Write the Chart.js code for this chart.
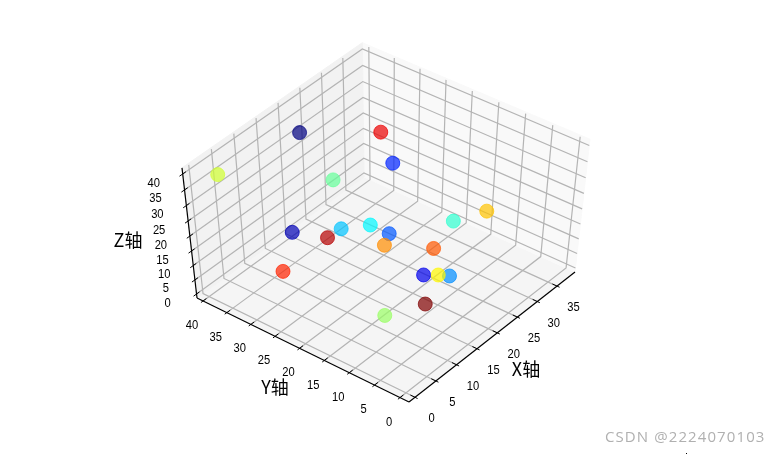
<!DOCTYPE html>
<html>
<head>
<meta charset="utf-8">
<title>3D scatter</title>
<script src="https://cdn.jsdelivr.net/npm/chart.js@4/dist/chart.umd.min.js"></script>
<style>
  html, body { margin: 0; padding: 0; background: #fff; }
  canvas { display: block; }
</style>
</head>
<body>
<canvas id="chart" width="779" height="454"></canvas>
<script>
// point values
var xValues = [19.4, 9.8, 14.0, 28.6, 17.2, 17.9, 13.8, 17.2, 25.5, 20.4, 6.1, 2.7, 15.9, 28.0, 14.5, 18.3, 5.8, 31.3, 11.4, 11.4];
var yValues = [36.7, 30.5, 8.2, 26.2, 17.5, 6.3, 24.1, 21.2, 11.8, 31.2, 9.2, 38.2, 6.9, 7.5, 16.2, 9.8, 29.2, 30.8, 24.8, 5.7];
var zValues = [36, 18, 17, 25, 20, 14, 20, 20, 20, 24, 11, 38, 16, 24, 20, 20, 10, 29, 19, 12];
var colorValues = [0, 1, 2, 3, 4, 5, 6, 7, 8, 9, 10, 11, 12, 13, 14, 15, 16, 17, 18, 19];

var xTicks = [0, 5, 10, 15, 20, 25, 30, 35];
var yTicks = [0, 5, 10, 15, 20, 25, 30, 35, 40];
var zTicks = [0, 5, 10, 15, 20, 25, 30, 35, 40];

var xLimits = [-1.43, 39.6];
var yLimits = [-1.75, 41.28];
var zLimits = [-1.43, 41.9];

// camera fitted to the box corners, works on 0..1 box coordinates
var camera = [
  [188.56, -203.415, -29.59, 409],
  [-119.33, -91.01, -148.7, 402],
  [0.03923, 0.04358, -0.07657, 1]
];

function project(x, y, z) {
  var a = (x - xLimits[0]) / (xLimits[1] - xLimits[0]);
  var b = (y - yLimits[0]) / (yLimits[1] - yLimits[0]);
  var c = (z - zLimits[0]) / (zLimits[1] - zLimits[0]);
  var w = camera[2][0] * a + camera[2][1] * b + camera[2][2] * c + camera[2][3];
  return {
    x: (camera[0][0] * a + camera[0][1] * b + camera[0][2] * c + camera[0][3]) / w,
    y: (camera[1][0] * a + camera[1][1] * b + camera[1][2] * c + camera[1][3]) / w
  };
}

// matplotlib jet
function jet(value, alpha) {
  var t = value / 19;
  function band(center) {
    return Math.round(255 * Math.max(0, Math.min(1, 1.5 - Math.abs(4 * t - center))));
  }
  return 'rgba(' + band(3) + ',' + band(2) + ',' + band(1) + ',' + alpha + ')';
}

function lineSet(points, color, width, order) {
  return {
    data: points,
    borderColor: color,
    borderWidth: width,
    pointRadius: 0,
    fill: false,
    tension: 0,
    order: order
  };
}

function paneSet(points, color) {
  return {
    data: points,
    borderColor: color,
    borderWidth: 1,
    backgroundColor: color,
    pointRadius: 0,
    fill: 'shape',
    tension: 0,
    order: 5
  };
}

var x0 = xLimits[0], x1 = xLimits[1];
var y0 = yLimits[0], y1 = yLimits[1];
var z0 = zLimits[0], z1 = zLimits[1];

var datasets = [];

// panes
datasets.push(paneSet([project(x0, y1, z0), project(x1, y1, z0), project(x1, y1, z1), project(x0, y1, z1), project(x0, y1, z0)], '#f2f2f2'));
datasets.push(paneSet([project(x1, y0, z0), project(x1, y1, z0), project(x1, y1, z1), project(x1, y0, z1), project(x1, y0, z0)], '#f9f9f9'));
datasets.push(paneSet([project(x0, y0, z0), project(x1, y0, z0), project(x1, y1, z0), project(x0, y1, z0), project(x0, y0, z0)], '#f5f5f5'));

// grid lines
var gridColor = '#b4b4b4';
xTicks.forEach(function(t) {
  datasets.push(lineSet([project(t, y0, z0), project(t, y1, z0), project(t, y1, z1 - 0.5)], gridColor, 1.2, 3));
});
yTicks.forEach(function(t) {
  datasets.push(lineSet([project(x0, t, z0), project(x1, t, z0), project(x1, t, z1 - 0.5)], gridColor, 1.2, 3));
});
zTicks.forEach(function(t) {
  datasets.push(lineSet([project(x0, y1, t), project(x1, y1, t), project(x1, y0, t)], gridColor, 1.2, 3));
});

// axis lines and ticks
datasets.push(lineSet([project(x0, y0, z0), project(x1, y0, z0)], '#000', 1.2, 2));
datasets.push(lineSet([project(x0, y0, z0), project(x0, y1, z0)], '#000', 1.2, 2));
datasets.push(lineSet([project(x0, y1, z0), project(x0, y1, z1)], '#000', 1.2, 2));
xTicks.forEach(function(t) {
  datasets.push(lineSet([project(t, y0 - 0.5, z0), project(t, y0 + 0.9, z0)], '#000', 1, 2));
});
yTicks.forEach(function(t) {
  datasets.push(lineSet([project(x0 - 0.5, t, z0), project(x0 + 0.8, t, z0)], '#000', 1, 2));
});
zTicks.forEach(function(t) {
  datasets.push(lineSet([project(x0 - 0.7, y1, t), project(x0 + 0.7, y1, t)], '#000', 1, 2));
});

// the points
var scatterPoints = xValues.map(function(x, i) {
  return project(x, yValues[i], zValues[i]);
});
datasets.push({
  data: scatterPoints,
  showLine: false,
  pointRadius: 7,
  pointBorderWidth: 1,
  pointBackgroundColor: colorValues.map(function(v) { return jet(v, 0.7); }),
  pointBorderColor: colorValues.map(function(v) { return jet(v, 0.7); }),
  order: 0
});

// tick digits in the reference are narrow, squeeze them a bit
function narrowText(ctx, text, x, y) {
  ctx.save();
  ctx.translate(x, y);
  ctx.scale(0.86, 1);
  ctx.fillText(text, 0, 0);
  ctx.restore();
}

var labelPlugin = {
  id: 'axisText',
  afterDraw: function(chart) {
    var ctx = chart.ctx;
    ctx.save();
    ctx.fillStyle = '#000';
    ctx.textAlign = 'center';
    ctx.textBaseline = 'middle';
    ctx.font = "13px 'Liberation Sans'";
    xTicks.forEach(function(t) {
      var p = project(t, y0, z0);
      narrowText(ctx, String(t), p.x + 16.5, p.y + 21.5);
    });
    yTicks.forEach(function(t) {
      var p = project(x0, t, z0);
      narrowText(ctx, String(t), p.x - 11, p.y + 24.5);
    });
    zTicks.forEach(function(t) {
      var p = project(x0, y1, t);
      narrowText(ctx, String(t), p.x - 29, p.y + 9);
    });

    ctx.font = "18px 'Noto Sans CJK SC'";
    ctx.fillText('X轴', 526, 369);
    ctx.fillText('Y轴', 275, 387);
    ctx.fillText('Z轴', 128, 240);

    // watermark of the source page
    ctx.fillStyle = '#b0b0b0';
    ctx.textAlign = 'right';
    ctx.font = "15px 'Open Sans'";
    ctx.letterSpacing = '1.1px';
    ctx.fillText('CSDN @2224070103', 765.5, 438);
    ctx.letterSpacing = '0px';

    // stray speck at the bottom edge of the screenshot
    ctx.fillStyle = '#000';
    ctx.fillRect(686, 453, 1, 1);
    ctx.restore();
  }
};

new Chart(document.getElementById('chart'), {
  type: 'line',
  data: { datasets: datasets },
  options: {
    responsive: false,
    animation: false,
    events: [],
    layout: { padding: 0, autoPadding: false },
    plugins: {
      legend: { display: false },
      tooltip: { enabled: false }
    },
    scales: {
      x: { type: 'linear', min: 0, max: 779, display: false },
      y: { type: 'linear', min: 0, max: 454, reverse: true, display: false }
    }
  },
  plugins: [labelPlugin]
});
</script>
</body>
</html>
